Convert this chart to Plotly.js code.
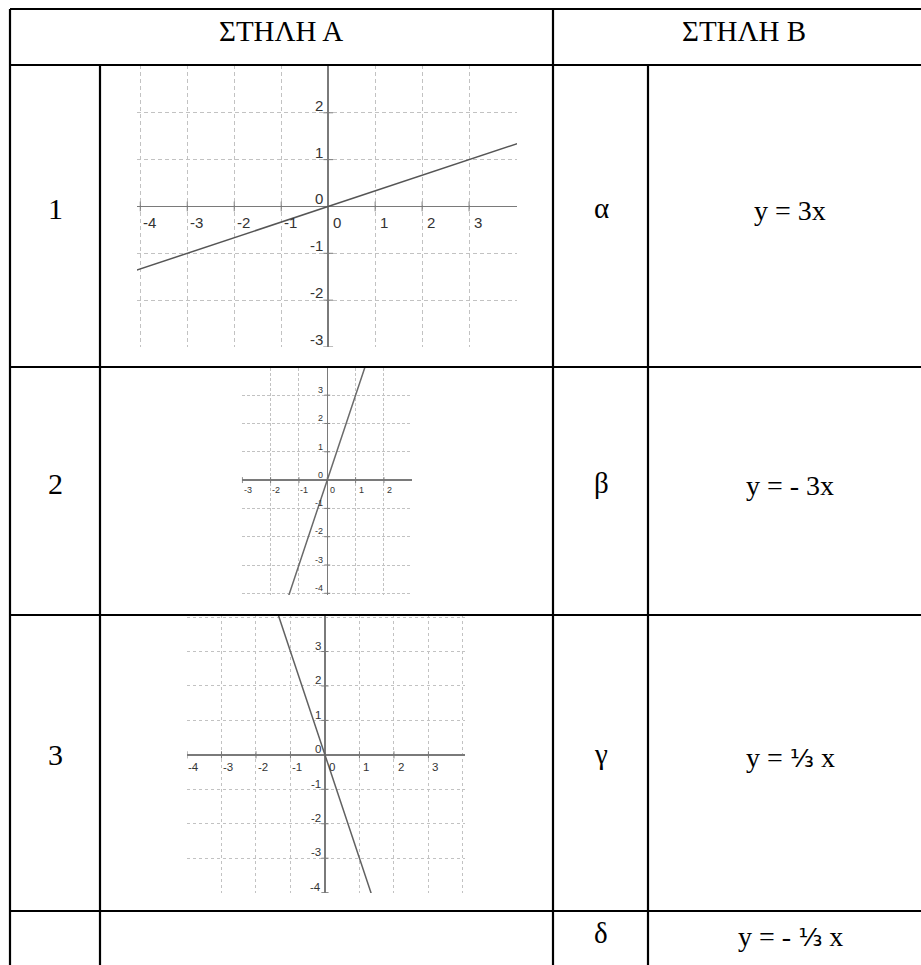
<!DOCTYPE html>
<html>
<head>
<meta charset="utf-8">
<script src="https://cdn.plot.ly/plotly-3.0.1.min.js"></script>
<style>
    body { margin: 0; background: #ffffff; }
    #plotDiv { width: 921px; height: 965px; }
</style>
</head>
<body>
<div id="plotDiv"></div>
<script>
var W = 921, H = 965;

// table text
var headerLabels = ['ΣΤΗΛΗ Α', 'ΣΤΗΛΗ Β'];
var rowNumbers = ['1', '2', '3'];
var greekLetters = ['α', 'β', 'γ', 'δ'];
var equations = [
    'y = 3x',
    'y = - 3x',
    "y = <span style=\"font-family:'DejaVu Sans';font-size:25px\">⅓</span> x",
    "y = - <span style=\"font-family:'DejaVu Sans';font-size:25px\">⅓</span> x"
];

// graph 1: y = x/3
var graph1X = [-4.2, 4.2];
var graph1Y = [-1.4, 1.4];
var graph1XTicks = [-4, -3, -2, -1, 0, 1, 2, 3];
var graph1YTicks = [-3, -2, -1, 0, 1, 2];

// graph 2: y = 3x
var graph2X = [-1.4, 1.4];
var graph2Y = [-4.2, 4.2];
var graph2XTicks = [-3, -2, -1, 0, 1, 2];
var graph2YTicks = [-4, -3, -2, -1, 0, 1, 2, 3];

// graph 3: y = -3x
var graph3X = [-1.4, 1.4];
var graph3Y = [4.2, -4.2];
var graph3XTicks = [-4, -3, -2, -1, 0, 1, 2, 3];
var graph3YTicks = [-4, -3, -2, -1, 0, 1, 2, 3];

window.onload = function () {
    drawTable();
};

function px(x) { return x / W; }
function py(y) { return 1 - y / H; }

function drawTable() {
    var plotDiv = document.getElementById('plotDiv');
    var serif = "'Liberation Serif', 'Times New Roman', serif";

    // where each little graph sits in its cell (pixels) and its visible window
    var graphs = [
        {x: graph1X, y: graph1Y, xt: graph1XTicks, yt: graph1YTicks,
         left: 137, right: 517, top: 65, bottom: 347,
         xRange: [-4.07, 4.02], yRange: [-3.0, 3.02], unit: 47, font: 15,
         lineColor: '#555555', dash: '4px,3px'},
        {x: graph2X, y: graph2Y, xt: graph2XTicks, yt: graph2YTicks,
         left: 241.7, right: 411.7, top: 368, bottom: 595,
         xRange: [-3.02, 2.98], yRange: [-4.06, 3.96], unit: 28.3, font: 9,
         lineColor: '#6a6a6a', dash: '3px,2px'},
        {x: graph3X, y: graph3Y, xt: graph3XTicks, yt: graph3YTicks,
         left: 187, right: 465, top: 615, bottom: 893,
         xRange: [-4.0, 4.06], yRange: [-4.01, 4.06], unit: 34.5, font: 11.5,
         lineColor: '#606060', dash: '3px,3px'}
    ];

    var plotData = [];
    var annotations = [];
    var layoutOpt = {
        width: W,
        height: H,
        margin: {l: 0, r: 0, t: 0, b: 0, pad: 0},
        paper_bgcolor: '#ffffff',
        plot_bgcolor: '#ffffff',
        showlegend: false,
        font: {family: serif, color: '#000000'}
    };

    graphs.forEach(function (g, i) {
        var n = i === 0 ? '' : String(i + 1);
        var s = g.unit / 47;
        var axisCommon = {
            dtick: 1,
            tick0: 0,
            showticklabels: false,
            ticks: '',
            showline: false,
            showgrid: true,
            gridcolor: '#c2c2c2',
            gridwidth: 1,
            griddash: g.dash,
            zeroline: true,
            zerolinecolor: '#7a7a7a',
            zerolinewidth: 1.5,
            fixedrange: true
        };
        layoutOpt['xaxis' + n] = Object.assign({}, axisCommon, {
            domain: [px(g.left), px(g.right)],
            range: g.xRange,
            anchor: 'y' + n
        });
        layoutOpt['yaxis' + n] = Object.assign({}, axisCommon, {
            domain: [py(g.bottom), py(g.top)],
            range: g.yRange,
            anchor: 'x' + n
        });

        // small tick marks on the axes
        plotData.push({
            x: g.xt, y: g.xt.map(function () { return 0; }),
            xaxis: 'x' + n, yaxis: 'y' + n,
            mode: 'markers', type: 'scatter', hoverinfo: 'skip',
            marker: {symbol: 'line-ns-open', size: 7 * s, color: '#7a7a7a', line: {color: '#7a7a7a', width: 1}}
        });
        plotData.push({
            x: g.yt.map(function () { return 0; }), y: g.yt,
            xaxis: 'x' + n, yaxis: 'y' + n,
            mode: 'markers', type: 'scatter', hoverinfo: 'skip',
            marker: {symbol: 'line-ew-open', size: 7 * s, color: '#7a7a7a', line: {color: '#7a7a7a', width: 1}}
        });

        plotData.push({
            x: g.x, y: g.y,
            xaxis: 'x' + n, yaxis: 'y' + n,
            mode: 'lines', type: 'scatter', hoverinfo: 'skip',
            line: {color: g.lineColor, width: 1.5}
        });

        var tickFont = {family: 'Liberation Sans', size: g.font, color: '#333333'};
        g.xt.forEach(function (t) {
            annotations.push({
                xref: 'x' + n, yref: 'y' + n, x: t, y: 0,
                text: String(t), showarrow: false,
                xanchor: 'center', yanchor: 'middle',
                xshift: 9 * s, yshift: -16 * s,
                font: tickFont
            });
        });
        g.yt.forEach(function (t) {
            annotations.push({
                xref: 'x' + n, yref: 'y' + n, x: 0, y: t,
                text: String(t), showarrow: false,
                xanchor: 'right', yanchor: 'bottom',
                xshift: -3 * s, yshift: -3 * s,
                font: tickFont
            });
        });
    });

    // table text
    var headerX = [281, 744];
    headerLabels.forEach(function (t, i) {
        annotations.push({
            xref: 'paper', yref: 'paper', x: px(headerX[i]), y: py(31),
            text: t, showarrow: false, xanchor: 'center', yanchor: 'middle',
            font: {family: serif, size: 29, color: '#000000'}
        });
    });
    var rowY = [208, 483, 754, 933];
    rowNumbers.forEach(function (t, i) {
        annotations.push({
            xref: 'paper', yref: 'paper', x: px(55), y: py(rowY[i]),
            text: t, showarrow: false, xanchor: 'center', yanchor: 'middle',
            font: {family: serif, size: 30, color: '#000000'}
        });
    });
    greekLetters.forEach(function (t, i) {
        annotations.push({
            xref: 'paper', yref: 'paper', x: px(601), y: py(rowY[i]),
            text: t, showarrow: false, xanchor: 'center', yanchor: 'middle',
            font: {family: serif, size: 29, color: '#000000'}
        });
    });
    equations.forEach(function (t, i) {
        annotations.push({
            xref: 'paper', yref: 'paper', x: px(790), y: py(rowY[i] + 3),
            text: t, showarrow: false, xanchor: 'center', yanchor: 'middle',
            font: {family: serif, size: 28, color: '#000000'}
        });
    });
    layoutOpt.annotations = annotations;

    // table borders
    var hLines = [[9, 10, W], [65, 10, W], [367, 10, W], [615, 10, W], [911, 10, W]];
    var vLines = [[10, 9, H], [100, 65, H], [553, 9, H], [648, 65, H]];
    var shapes = [];
    hLines.forEach(function (l) {
        shapes.push({type: 'line', xref: 'paper', yref: 'paper', layer: 'above',
            x0: px(l[1]), x1: px(l[2]), y0: py(l[0]), y1: py(l[0]),
            line: {color: '#000000', width: 2.2}});
    });
    vLines.forEach(function (l) {
        shapes.push({type: 'line', xref: 'paper', yref: 'paper', layer: 'above',
            x0: px(l[0]), x1: px(l[0]), y0: py(l[1]), y1: py(l[2]),
            line: {color: '#000000', width: 2.2}});
    });
    layoutOpt.shapes = shapes;

    Plotly.newPlot(plotDiv, plotData, layoutOpt, {displayModeBar: false, staticPlot: true});
}
</script>
</body>
</html>
